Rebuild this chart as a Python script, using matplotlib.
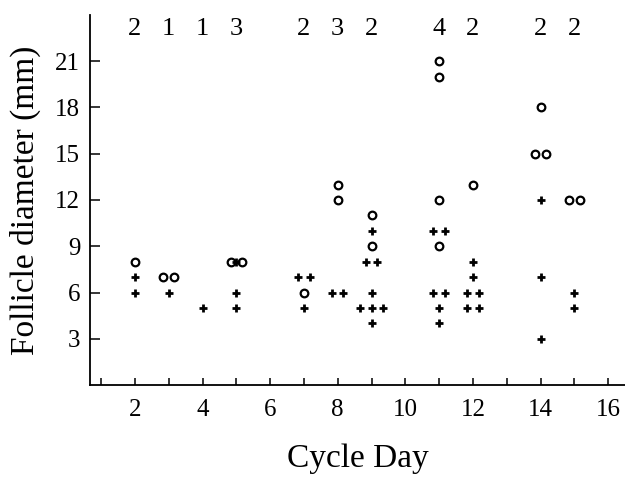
import matplotlib
matplotlib.use("Agg")
import matplotlib.pyplot as plt
from matplotlib.ticker import MultipleLocator
from collections import defaultdict

# ---- data ----
plus_days = [2, 2, 3, 4, 5, 5, 5, 7, 7, 7, 8, 8,
             9, 9, 9, 9, 9, 9, 9, 9,
             11, 11, 11, 11, 11, 11,
             12, 12, 12, 12, 12, 12,
             14, 14, 14, 15, 15]
plus_diam = [7, 6, 6, 5, 8, 6, 5, 7, 7, 5, 6, 6,
             10, 8, 8, 6, 5, 5, 5, 4,
             10, 10, 6, 6, 5, 4,
             8, 7, 6, 6, 5, 5,
             12, 7, 3, 6, 5]

circ_days = [2, 3, 3, 5, 5, 7, 8, 8, 9, 9, 11, 11, 11, 11, 12, 14, 14, 14, 15, 15]
circ_diam = [8, 7, 7, 8, 8, 6, 13, 12, 11, 9, 21, 20, 12, 9, 13, 18, 15, 15, 12, 12]

count_days = [2, 3, 4, 5, 7, 8, 9, 11, 12, 14, 15]
count_vals = [2, 1, 1, 3, 2, 3, 2, 4, 2, 2, 2]

y_ticks = [3, 6, 9, 12, 15, 18, 21]
x_ticks = [2, 4, 6, 8, 10, 12, 14, 16]


def spread(days, vals, step):
    groups = defaultdict(int)
    for d, v in zip(days, vals):
        groups[(d, v)] += 1
    seen = defaultdict(int)
    xs = []
    for d, v in zip(days, vals):
        n = groups[(d, v)]
        i = seen[(d, v)]
        seen[(d, v)] += 1
        xs.append(d + (i - (n - 1) / 2) * step)
    return xs


plt.rcParams['font.family'] = ['Liberation Serif', 'DejaVu Serif']

fig = plt.figure(figsize=(6.25, 4.95), dpi=100)
ax = fig.add_axes([0.144, 0.222, 0.856, 0.748])

ax.plot(spread(plus_days, plus_diam, 0.34), plus_diam, linestyle='none',
        marker='+', markersize=5.5, markeredgewidth=2.0, color='black')
ax.plot(spread(circ_days, circ_diam, 0.32), circ_diam, linestyle='none',
        marker='o', markersize=5.5, markerfacecolor='none',
        markeredgewidth=1.6, markeredgecolor='black')

for d, c in zip(count_days, count_vals):
    ax.text(d, 23.1, str(c), ha='center', va='center', fontsize=19)

ax.set_xlim(0.67, 16.5)
ax.set_ylim(0, 24)
ax.set_xticks(x_ticks)
ax.xaxis.set_minor_locator(MultipleLocator(1))
ax.set_yticks(y_ticks)

ax.tick_params(axis='x', which='both', direction='in', length=5, width=1.1,
               pad=10, labelsize=18)
ax.tick_params(axis='y', which='both', direction='in', length=7, width=1.1,
               pad=7, labelsize=18)

for s in ['top', 'right']:
    ax.spines[s].set_visible(False)
for s in ['left', 'bottom']:
    ax.spines[s].set_linewidth(1.3)

ax.set_xlabel('Cycle Day', fontsize=24, labelpad=16)
ax.set_ylabel('Follicle diameter (mm)', fontsize=24, labelpad=10)

fig.savefig('out.png', dpi=100)
